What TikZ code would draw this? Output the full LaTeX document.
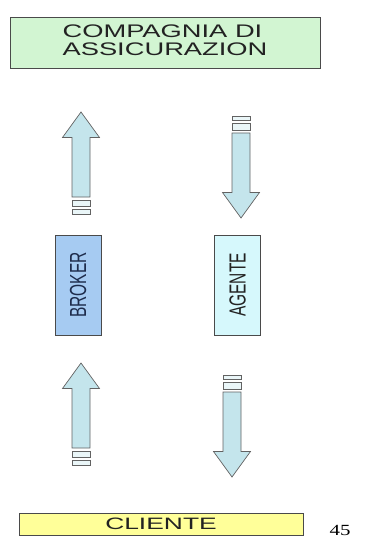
\documentclass[tikz,border=0pt]{standalone}
\usepackage{fontspec}
\setmainfont{Liberation Sans}
\newfontfamily\numfont{Liberation Serif}
\definecolor{boxline}{HTML}{4A4A4A}
\definecolor{arrowline}{HTML}{626262}
\definecolor{arrowfill}{HTML}{C4E5EC}
\definecolor{greenfill}{HTML}{D2F5D2}
\definecolor{yellowfill}{HTML}{FFFF99}
\definecolor{brokerfill}{HTML}{A6CBF2}
\definecolor{agentefill}{HTML}{D6F8FC}
\definecolor{textdark}{HTML}{222222}
\definecolor{navytext}{HTML}{1E2C4C}
\begin{document}
\begin{tikzpicture}[x=1pt,y=-1pt,
  box/.style={draw=boxline, line width=0.8pt, inner sep=0pt, text=textdark},
  arrowshape/.style={draw=arrowline, fill=arrowfill, line width=0.7pt, line join=miter},
  stripe/.style={draw=arrowline, fill=arrowfill!35, line width=0.7pt},
  pics/blockarrow/.style={code={
    \draw[arrowshape] (0,0) -- (18.5,25.5) -- (9,25.5) -- (9,85) -- (-9,85) -- (-9,25.5) -- (-18.5,25.5) -- cycle;
    \draw[stripe] (-9,88) rectangle (9,94.5);
    \draw[stripe] (-9,97.5) rectangle (9,102);
  }}]
\useasboundingbox (0,0) rectangle (367,548);

% boxes
\node[box, fill=greenfill, minimum width=310pt, minimum height=51pt,
      font=\fontsize{18.2}{20}\selectfont, align=left] (compagnia) at (165,42.5)
  {\scalebox{1.5}[1]{\begin{tabular}{@{}l@{}}COMPAGNIA DI\\[-1.6pt]ASSICURAZION\end{tabular}}};

\node[box, fill=brokerfill, minimum width=46pt, minimum height=100pt, text=navytext,
      font=\fontsize{15.5}{16}\selectfont] (broker) at (78,285)
  {\rotatebox{90}{\scalebox{1}[1.5]{BROKER}}};

\node[box, fill=agentefill, minimum width=46pt, minimum height=100pt,
      font=\fontsize{15.5}{16}\selectfont] (agente) at (237.5,285)
  {\rotatebox{90}{\scalebox{1}[1.5]{AGENTE}}};

\node[box, fill=yellowfill, minimum width=284pt, minimum height=22pt,
      font=\fontsize{16.5}{17}\selectfont] (cliente) at (161,524)
  {\scalebox{1.6}[1]{CLIENTE}};

\node[anchor=base, inner sep=0pt, text=black] (pagenum) at (340,535)
  {\numfont\fontsize{15.5}{16}\selectfont\scalebox{1.35}[1]{45}};

% block arrows
\pic (upA) at (81,112) {blockarrow};
\pic[rotate=180] (downA) at (241,218) {blockarrow};
\pic (upB) at (81,363) {blockarrow};
\pic[rotate=180] (downB) at (232,477) {blockarrow};
\end{tikzpicture}
\end{document}
